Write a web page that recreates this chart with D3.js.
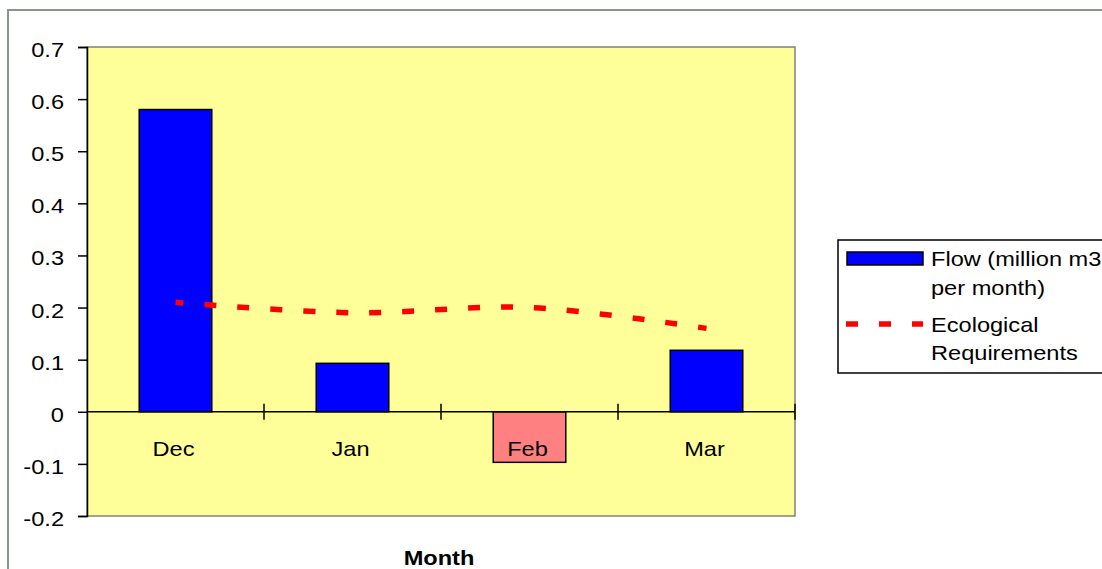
<!DOCTYPE html>
<html>
<head>
<meta charset="utf-8">
<script src="https://cdn.jsdelivr.net/npm/d3@7"></script>
<style>
  html, body { margin: 0; padding: 0; background: #ffffff; }
  svg { display: block; }
  text { font-family: "Liberation Sans", Arial, sans-serif; fill: #000; }
</style>
</head>
<body>
<svg id="chart" width="1102" height="569"></svg>
<script>
// Monthly flow vs. ecological requirement
const months = ["Dec", "Jan", "Feb", "Mar"];
const flow = [0.58, 0.093, -0.097, 0.118];          // million m3 per month
const ecological = [0.21, 0.19, 0.20, 0.16];        // ecological requirement
const yTicks = [-0.2, -0.1, 0, 0.1, 0.2, 0.3, 0.4, 0.5, 0.6, 0.7];
const yTickLabels = ["-0.2", "-0.1", "0", "0.1", "0.2", "0.3", "0.4", "0.5", "0.6", "0.7"];
const legendLabels = [["Flow (million m3", "per month)"], ["Ecological", "Requirements"]];
const xTitle = "Month";

const SX = 1.18;          // horizontal text stretch
const FS = 20;            // font size

const svg = d3.select("#chart");
const plot = { left: 87, right: 795, top: 47, bottom: 516 };

const x = d3.scaleBand()
  .domain(months)
  .range([plot.left, plot.right])
  .paddingInner(0.59)
  .paddingOuter(0.295);
const step = x.step();

const y = d3.scaleLinear()
  .domain([-0.2, 0.7])
  .range([plot.bottom, plot.top]);

// Outer chart frame
svg.append("rect")
  .attr("x", 8).attr("y", 10)
  .attr("width", 1300).attr("height", 800)
  .attr("fill", "#ffffff")
  .attr("stroke", "#8a948a")
  .attr("stroke-width", 2);

// Plot background
svg.append("rect")
  .attr("x", plot.left).attr("y", plot.top)
  .attr("width", plot.right - plot.left)
  .attr("height", plot.bottom - plot.top)
  .attr("fill", "#FFFF99")
  .attr("stroke", "#808080")
  .attr("stroke-width", 1.5);

// Bars
svg.append("g").selectAll("rect")
  .data(months.map((m, i) => ({ m, v: flow[i] })))
  .join("rect")
  .attr("x", d => x(d.m))
  .attr("width", x.bandwidth())
  .attr("y", d => y(Math.max(0, d.v)))
  .attr("height", d => Math.abs(y(d.v) - y(0)))
  .attr("fill", d => d.v < 0 ? "#FF8080" : "#0000FF")
  .attr("stroke", "#000")
  .attr("stroke-width", 1.5);

// Ecological requirement line (smoothed, dashed)
const line = d3.line()
  .x((d, i) => x(months[i]) + x.bandwidth() / 2)
  .y(d => y(d))
  .curve(d3.curveCatmullRom.alpha(0.5));

svg.append("path")
  .datum(ecological)
  .attr("d", line)
  .attr("fill", "none")
  .attr("stroke", "#FF0000")
  .attr("stroke-width", 5.5)
  .attr("stroke-dasharray", "12,21")
  .attr("stroke-dashoffset", 4);

// Y axis
const yAxis = d3.axisLeft(y)
  .tickValues(yTicks)
  .tickSize(9)
  .tickPadding(0)
  .tickFormat((d, i) => yTickLabels[i]);

const gy = svg.append("g")
  .attr("transform", `translate(${plot.left},0)`)
  .call(yAxis);
gy.select(".domain").attr("stroke", "#000").attr("stroke-width", 1.5);
gy.selectAll(".tick line").attr("stroke", "#000").attr("stroke-width", 1.5);
gy.selectAll(".tick text")
  .attr("x", null)
  .attr("dy", null)
  .attr("transform", `translate(-23,9.5) scale(${SX},1)`)
  .attr("text-anchor", "end")
  .style("font-size", FS + "px")
  .style("font-family", '"Liberation Sans", Arial, sans-serif')
  .attr("fill", "#000");

// Category axis along zero
const x0 = y(0);
svg.append("line")
  .attr("x1", plot.left).attr("x2", plot.right)
  .attr("y1", x0).attr("y2", x0)
  .attr("stroke", "#000").attr("stroke-width", 1.5);

const boundaries = months.map((m, i) => plot.left + step * (i + 1));
svg.append("g").selectAll("line")
  .data(boundaries)
  .join("line")
  .attr("x1", d => d).attr("x2", d => d)
  .attr("y1", x0 - 8).attr("y2", x0 + 8)
  .attr("stroke", "#000").attr("stroke-width", 1.5);

svg.append("g").selectAll("text")
  .data(months)
  .join("text")
  .attr("transform", d => `translate(${x(d) + x.bandwidth() / 2 - 2},456) scale(${SX},1)`)
  .attr("text-anchor", "middle")
  .style("font-size", FS + "px")
  .text(d => d);

// Axis title
svg.append("text")
  .attr("transform", `translate(${(plot.left + plot.right) / 2 - 2},565) scale(${SX},1)`)
  .attr("text-anchor", "middle")
  .style("font-size", FS + "px")
  .style("font-weight", "bold")
  .text(xTitle);

// Legend
const lg = svg.append("g");
lg.append("rect")
  .attr("x", 838).attr("y", 240)
  .attr("width", 400).attr("height", 133)
  .attr("fill", "#ffffff")
  .attr("stroke", "#000")
  .attr("stroke-width", 1.5);

lg.append("rect")
  .attr("x", 847).attr("y", 252)
  .attr("width", 76).attr("height", 13)
  .attr("fill", "#0000FF")
  .attr("stroke", "#000")
  .attr("stroke-width", 1.5);

lg.append("line")
  .attr("x1", 846).attr("x2", 923)
  .attr("y1", 324).attr("y2", 324)
  .attr("stroke", "#FF0000")
  .attr("stroke-width", 5.5)
  .attr("stroke-dasharray", "12,21");

const legendBaselines = [[266, 295], [332, 360]];
legendLabels.forEach((lines, i) => {
  lines.forEach((t, j) => {
    lg.append("text")
      .attr("transform", `translate(931,${legendBaselines[i][j]}) scale(${SX},1)`)
      .style("font-size", FS + "px")
      .text(t);
  });
});
</script>
</body>
</html>
